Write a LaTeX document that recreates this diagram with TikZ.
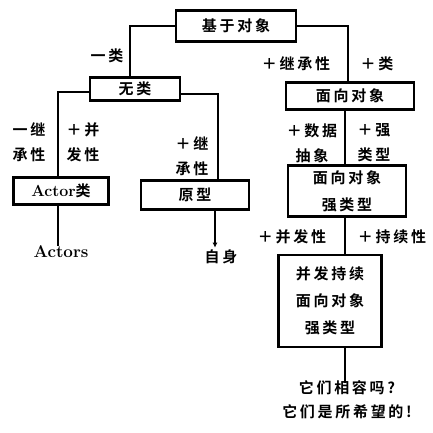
\documentclass[tikz,border=0pt]{standalone}
\usepackage{fontspec}
\newfontfamily\cjk[LetterSpace=18,BoldFont={Noto Sans CJK SC Bold}]{Noto Sans CJK SC}
\usetikzlibrary{arrows.meta}
\tikzset{
  box/.style={draw, line width=2.2pt, inner sep=0pt, font=\cjk\bfseries\fontsize{15}{27}\selectfont, align=center},
  lbl/.style={inner sep=0pt, font=\cjk\bfseries\fontsize{15}{25}\selectfont, align=center},
  conn/.style={line width=2.6pt},
}
\begin{document}
\begin{tikzpicture}[x=1pt,y=-1pt]
\useasboundingbox (0,0) rectangle (433,432);
% boxes
\node[box, minimum width=120pt, minimum height=31pt] (top) at (236,26) {基于对象};
\node[box, minimum width=90pt, minimum height=23pt] (nolei) at (135,89) {无类};
\node[box, minimum width=128pt, minimum height=27pt] (oo) at (350,96) {面向对象};
\node[box, line width=3.4pt, minimum width=95pt, minimum height=27pt] (actor) at (61,191) {{\rmfamily\bfseries\fontsize{16}{18}\selectfont Actor}类};
\node[box, minimum width=108pt, minimum height=29pt] (proto) at (195,195) {原型};
\node[box, minimum width=118pt, minimum height=51pt] (strong) at (347,191) {面向对象\\强类型};
\node[box, minimum width=103pt, minimum height=92pt] (conc) at (330,301) {并发持续\\面向对象\\强类型};
% end texts
\node[inner sep=0pt, font=\rmfamily\bfseries\fontsize{17}{18}\selectfont] (actors) at (61,252) {Actors};
\node[lbl] (self) at (221,257) {自身};
\node[lbl, font=\cjk\bfseries\fontsize{15}{24}\selectfont] (question) at (347,400) {它们相容吗?\\它们是所希望的!};
% edge labels
\node[lbl] (l1) at (107,56) {一类};
\node[lbl] (l2) at (296,64) {＋继承性};
\node[lbl] (l3) at (377,64) {＋类};
\node[lbl] (l4) at (29,142) {一继\\承性};
\node[lbl] (l5) at (83,142) {＋并\\发性};
\node[lbl] (l6) at (192,156) {＋继\\承性};
\node[lbl] (l7) at (312,143) {＋数据\\抽象};
\node[lbl] (l8) at (374,143) {＋强\\类型};
\node[lbl] (l9) at (292,237) {＋并发性};
\node[lbl] (l10) at (392,237) {＋持续性};
% connectors
\draw[conn] (top.west) -| ([xshift=-5pt]nolei.north);
\draw[conn] (top.east) -| ([xshift=-2pt]oo.north);
\draw[conn] ([yshift=-3pt]nolei.west) -| ([xshift=-3pt]actor.north);
\draw[conn] ([yshift=-5pt]nolei.east) -| ([xshift=23pt]proto.north);
\draw[conn] ([xshift=-3pt]actor.south) -- ([xshift=-3pt]actors.north);
\draw[conn, -{Latex[length=5pt,width=5pt]}] ([xshift=20pt]proto.south) -- ([xshift=-6pt,yshift=2pt]self.north);
\draw[conn] ([xshift=-5pt]oo.south) -- ([xshift=-2pt]strong.north);
\draw[conn] ([xshift=-2pt]strong.south) -- ([xshift=15pt]conc.north);
\draw[conn] ([xshift=15pt]conc.south) -- ([xshift=-2pt,yshift=-2pt]question.north);
\end{tikzpicture}
\end{document}
